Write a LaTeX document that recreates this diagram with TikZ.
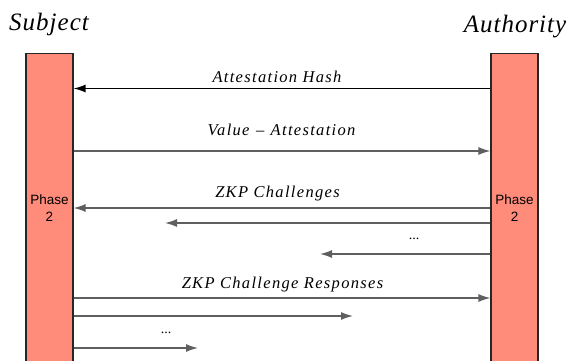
\documentclass[tikz,border=0pt]{standalone}
\usepackage{fontspec}
\setmainfont{Liberation Serif}
\newfontfamily\actorfont[LetterSpace=4]{Liberation Serif}
\newfontfamily\labelfont[LetterSpace=8]{Liberation Serif}
\newfontfamily\phasefont{Liberation Sans}
\usetikzlibrary{arrows.meta}
\definecolor{barfill}{RGB}{255,139,122}
\definecolor{msggray}{RGB}{95,95,95}
\begin{document}
\begin{tikzpicture}[x=1pt,y=-1pt,
  lifeline/.style={draw=black!85,line width=1.1pt,fill=barfill,minimum width=47pt,minimum height=320pt,inner sep=0pt,anchor=north},
  actor/.style={font=\fontsize{25}{28}\selectfont\actorfont\itshape,inner sep=0pt,anchor=base},
  msg/.style={draw=msggray,line width=1.4pt,-{Latex[length=12pt,width=8pt]}},
  firstmsg/.style={msg,draw=black},
  msglabel/.style={font=\fontsize{16.5}{19}\selectfont\labelfont\itshape,inner sep=0pt,anchor=base},
  phase/.style={font=\fontsize{13.5}{17}\selectfont\phasefont,align=center,inner sep=0pt},
  dots/.style={font=\fontsize{14}{16}\selectfont,inner sep=0pt}]
\useasboundingbox (0,0) rectangle (569,360);
\clip (0,0) rectangle (569,360);
% actors
\node[actor] (subj) at (49,30) {Subject};
\node[actor] (auth) at (515,32) {Authority};
% lifelines
\node[lifeline] (L) at (49.5,52.5) {};
\node[lifeline] (R) at (514.5,52.5) {};
\node[phase] at (49.5,208) {Phase\\2};
\node[phase] at (514.5,208) {Phase\\2};
% free ends of the short messages
\coordinate (c2) at (165,223);
\coordinate (c3) at (320,254);
\coordinate (r2) at (353,316);
\coordinate (r3) at (198,348);
% messages
\draw[firstmsg] (R.west |- 0,88.5) -- (L.east |- 0,88.5);
\node[msglabel] at (277,82) {Attestation Hash};
\draw[msg] (L.east |- 0,151) -- (R.west |- 0,151);
\node[msglabel] at (281.5,135) {Value {\fontspec{Liberation Serif}\upshape\hspace{1pt}–\hspace{1pt}} Attestation};
\draw[msg] (R.west |- 0,208) -- (L.east |- 0,208);
\node[msglabel] at (277.5,197) {ZKP Challenges};
\draw[msg] (R.west |- c2) -- (c2);
\node[dots] at (414,239) {...};
\draw[msg] (R.west |- c3) -- (c3);
\draw[msg] (L.east |- 0,298) -- (R.west |- 0,298);
\node[msglabel] at (282.5,288) {ZKP Challenge Responses};
\draw[msg] (L.east |- r2) -- (r2);
\node[dots] at (166,332.5) {...};
\draw[msg] (L.east |- r3) -- (r3);
\end{tikzpicture}
\end{document}
